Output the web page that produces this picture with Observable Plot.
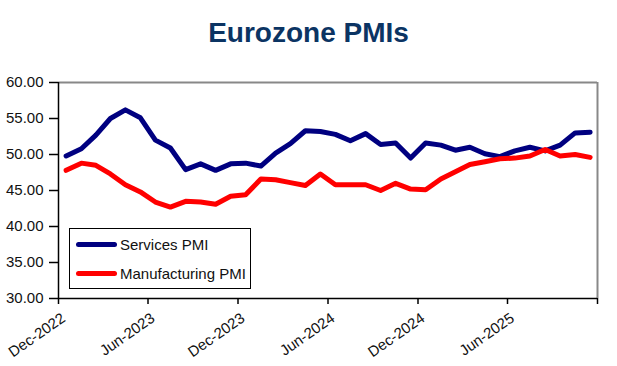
<!DOCTYPE html>
<html>
<head>
<meta charset="utf-8">
<script src="https://cdn.jsdelivr.net/npm/d3@7"></script>
<script src="https://cdn.jsdelivr.net/npm/@observablehq/plot@0.6"></script>
<style>
  html, body { margin: 0; padding: 0; background: #fff; }
  #wrap { position: relative; width: 617px; height: 366px; font-family: "Liberation Sans", Arial, sans-serif; }
  #title { height: 60px; line-height: 66px; text-align: center; font-size: 28px; font-weight: bold; color: #0b3463; }
  #legend { position: absolute; left: 69px; top: 228px; width: 180px; height: 59px; border: 1px solid #000; background: #fff; font-size: 15px; color: #111; }
  .li { position: absolute; left: 6px; height: 20px; display: flex; align-items: center; }
  .sw { width: 41px; height: 5px; border-radius: 3px; margin-right: 3px; }
</style>
</head>
<body>
<div id="wrap">
  <div id="title">Eurozone PMIs</div>
  <div id="chart"></div>
  <div id="legend"></div>
</div>
<script>
const months = ["2022-12","2023-01","2023-02","2023-03","2023-04","2023-05","2023-06","2023-07","2023-08","2023-09","2023-10","2023-11","2023-12",
  "2024-01","2024-02","2024-03","2024-04","2024-05","2024-06","2024-07","2024-08","2024-09","2024-10","2024-11","2024-12",
  "2025-01","2025-02","2025-03","2025-04","2025-05","2025-06","2025-07","2025-08","2025-09","2025-10","2025-11"];
const services = [49.8,50.8,52.7,55.0,56.2,55.1,52.0,50.9,47.9,48.7,47.8,48.7,48.8,
  48.4,50.2,51.5,53.3,53.2,52.8,51.9,52.9,51.4,51.6,49.5,51.6,
  51.3,50.6,51.0,50.1,49.7,50.5,51.0,50.5,51.3,53.0,53.1];
const manufacturing = [47.8,48.8,48.5,47.3,45.8,44.8,43.4,42.7,43.5,43.4,43.1,44.2,44.4,
  46.6,46.5,46.1,45.7,47.3,45.8,45.8,45.8,45.0,46.0,45.2,45.1,
  46.6,47.6,48.6,49.0,49.4,49.5,49.8,50.7,49.8,50.0,49.6];
const seriesNames = ["Services PMI", "Manufacturing PMI"];
const seriesColors = ["#000080", "#ff0000"];
const tickMonths = ["2022-12","2023-06","2023-12","2024-06","2024-12","2025-06","2025-12"];
const tickLabels = ["Dec-2022","Jun-2023","Dec-2023","Jun-2024","Dec-2024","Jun-2025"];
const yTicks = [30,35,40,45,50,55,60];

const parse = d3.utcParse("%Y-%m");
const mid = m => { const s = parse(m); return new Date((+s + +d3.utcMonth.offset(s, 1)) / 2); };
const rows = [];
months.forEach((m, i) => {
  rows.push({date: mid(m), value: services[i], series: seriesNames[0]});
  rows.push({date: mid(m), value: manufacturing[i], series: seriesNames[1]});
});
const tickDates = tickMonths.map(parse);
const xDomain = [tickDates[0], tickDates[tickDates.length - 1]];

const chart = Plot.plot({
  width: 617,
  height: 306,
  marginTop: 22,
  marginBottom: 68,
  marginLeft: 58,
  marginRight: 20,
  style: {fontFamily: "'Liberation Sans', Arial, sans-serif", fontSize: "15px", color: "#111"},
  x: {type: "utc", domain: xDomain},
  y: {domain: [30, 60]},
  color: {domain: seriesNames, range: seriesColors},
  marks: [
    Plot.ruleY([60], {stroke: "#888", strokeWidth: 2}),
    Plot.ruleX([xDomain[1]], {stroke: "#888", strokeWidth: 2}),
    Plot.line(rows, {x: "date", y: "value", z: "series", stroke: "series", strokeWidth: 5, strokeLinecap: "round", strokeLinejoin: "round", curve: "linear"}),
    Plot.ruleX([xDomain[0]], {stroke: "#000", strokeWidth: 1.5}),
    Plot.ruleY([30], {stroke: "#000", strokeWidth: 1.5}),
    Plot.axisY({ticks: yTicks, tickFormat: d3.format(".2f"), tickSize: 9, tickPadding: 6, label: null, stroke: "#000", strokeWidth: 1.5}),
    Plot.axisX({ticks: tickDates, tickFormat: () => "", tickSize: 6, label: null, stroke: "#000", strokeWidth: 1.5}),
    Plot.axisX({ticks: tickDates, tickFormat: (d, i) => tickLabels[i] ?? "", tickRotate: -35, tickSize: 0, tickPadding: 10, dx: 5, dy: 8, label: null})
  ]
});
document.getElementById("chart").appendChild(chart);

const legend = document.getElementById("legend");
seriesNames.forEach((name, i) => {
  const item = document.createElement("div");
  item.className = "li";
  item.style.top = (5 + i * 29) + "px";
  item.innerHTML = `<div class="sw" style="background:${seriesColors[i]}"></div><span>${name}</span>`;
  legend.appendChild(item);
});
</script>
</body>
</html>
